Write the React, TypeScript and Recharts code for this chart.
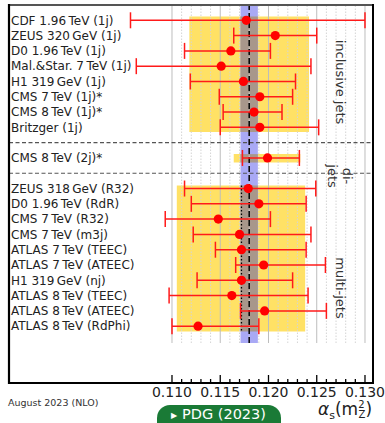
import React from "react";
import {
  ScatterChart,
  Scatter,
  XAxis,
  YAxis,
  ErrorBar,
  ReferenceArea,
  ReferenceLine,
} from "recharts";

const T = "\u2009";

const NAMES = [
  `CDF 1.96${T}TeV (1j)`,
  `ZEUS 320${T}GeV (1j)`,
  `D0 1.96${T}TeV (1j)`,
  `Mal.&Star. 7${T}TeV (1j)`,
  `H1 319${T}GeV (1j)`,
  `CMS 7${T}TeV (1j)*`,
  `CMS 8${T}TeV (1j)*`,
  "Britzger (1j)",
  `CMS 8${T}TeV (2j)*`,
  `ZEUS 318${T}GeV (R32)`,
  `D0 1.96${T}TeV (RdR)`,
  `CMS 7${T}TeV (R32)`,
  `CMS 7${T}TeV (m3j)`,
  `ATLAS 7${T}TeV (TEEC)`,
  `ATLAS 7${T}TeV (ATEEC)`,
  `H1 319${T}GeV (nj)`,
  `ATLAS 8${T}TeV (TEEC)`,
  `ATLAS 8${T}TeV (ATEEC)`,
  `ATLAS 8${T}TeV (RdPhi)`,
];
const ROWS = [0, 1, 2, 3, 4, 5, 6, 7, 9, 11, 12, 13, 14, 15, 16, 17, 18, 19, 20];
const CENTRAL = [
  0.1177, 0.1207, 0.1161, 0.1151, 0.1174, 0.1191, 0.1185, 0.1191, 0.1199,
  0.1179, 0.119, 0.1148, 0.117, 0.1172, 0.1195, 0.1172, 0.1162, 0.1196, 0.1127,
];
const LOWER = [
  0.1057, 0.1164, 0.1113, 0.1063, 0.1119, 0.1149, 0.1153, 0.115, 0.1173,
  0.1113, 0.112, 0.1093, 0.1122, 0.1145, 0.1166, 0.1126, 0.1097, 0.1171, 0.11,
];
const UPPER = [
  0.13, 0.125, 0.1202, 0.1244, 0.1228, 0.1225, 0.1214, 0.1252, 0.1232,
  0.1249, 0.1239, 0.1202, 0.1244, 0.1239, 0.1259, 0.1225, 0.1241, 0.126, 0.119,
];

// group averages (yellow bands)
const BAND_LO = [0.1118, 0.1164, 0.1105];
const BAND_HI = [0.1242, 0.1233, 0.1238];
const BAND_TOP = [-0.25, 8.75, 10.8];
const BAND_BOTTOM = [7.3, 9.3, 20.35];
const GROUP_LABELS = ["inclusive jets", "di-|jets", "multi-jets"];
const DIVIDERS = [8, 10];
const MULTI_AVG = 0.1172;

const WORLD_AVG = 0.118;
const WORLD_ERR = 0.0009;

const TICKS = [
  0.11, 0.111, 0.112, 0.113, 0.114, 0.115, 0.116, 0.117, 0.118, 0.119, 0.12,
  0.121, 0.122, 0.123, 0.124, 0.125, 0.126, 0.127, 0.128, 0.129, 0.13,
];

const data = NAMES.map((name, i) => ({
  name,
  x: CENTRAL[i],
  y: ROWS[i],
  err: [CENTRAL[i] - LOWER[i], UPPER[i] - CENTRAL[i]],
}));

const FONT = "DejaVu Sans, sans-serif";
const PLOT_BOTTOM = 383;

const AxisTick = (props: any) => {
  const { x, payload } = props;
  const k = Math.round(payload.value * 1000);
  const major = k % 5 === 0;
  return (
    <g>
      <line
        x1={x}
        x2={x}
        y1={PLOT_BOTTOM}
        y2={PLOT_BOTTOM - (major ? 8 : 4)}
        stroke="#000"
        strokeWidth={1.3}
      />
      {major && (
        <text
          x={x}
          y={PLOT_BOTTOM + 14}
          textAnchor="middle"
          fontFamily={FONT}
          fontSize={14}
          fill="#222"
        >
          {payload.value.toFixed(3)}
        </text>
      )}
    </g>
  );
};

const Point = (props: any) => {
  const { cx, cy, payload } = props;
  return (
    <g>
      <circle cx={cx} cy={cy} r={4.6} fill="#ff0000" />
      <text
        x={11}
        y={cy + 4.3}
        fontFamily={FONT}
        fontSize={12}
        fill="#222"
      >
        {payload.name}
      </text>
    </g>
  );
};

export default function App() {
  return (
    <div style={{ position: "absolute", left: 0, top: 0, width: 385, height: 423 }}>
      <ScatterChart
        width={385}
        height={423}
        margin={{ top: 5, right: 12, bottom: 40, left: 9 }}
      >
        <XAxis
          type="number"
          dataKey="x"
          domain={[0.09311, 0.13083]}
          allowDataOverflow
          ticks={TICKS}
          interval={0}
          tick={<AxisTick />}
          tickLine={false}
          axisLine={false}
          height={40}
        />
        <YAxis
          type="number"
          dataKey="y"
          domain={[-1, 21.1]}
          reversed
          hide
          allowDataOverflow
        />
        {TICKS.map((t) => {
          const major = Math.round(t * 1000) % 5 === 0;
          return (
            <ReferenceLine
              key={"g" + t}
              x={t}
              stroke={major ? "#bdbdbd" : "#d4d4d4"}
              strokeWidth={1}
              strokeDasharray={major ? undefined : "1.5 1.5"}
            />
          );
        })}
        {BAND_LO.map((lo, i) => (
          <ReferenceArea
            key={"b" + i}
            x1={lo}
            x2={BAND_HI[i]}
            y1={BAND_TOP[i]}
            y2={BAND_BOTTOM[i]}
            fill="#ffd629"
            fillOpacity={0.72}
            stroke="none"
          />
        ))}
        <ReferenceArea
          x1={WORLD_AVG - WORLD_ERR}
          x2={WORLD_AVG + WORLD_ERR}
          fill="#a9a9f5"
          fillOpacity={1}
          stroke="none"
        />
        {BAND_LO.map((lo, i) => (
          <ReferenceArea
            key={"o" + i}
            x1={WORLD_AVG - WORLD_ERR}
            x2={WORLD_AVG + WORLD_ERR}
            y1={BAND_TOP[i]}
            y2={BAND_BOTTOM[i]}
            fill="#a8978b"
            fillOpacity={1}
            stroke="none"
          />
        ))}
        {DIVIDERS.map((d) => (
          <ReferenceLine
            key={"d" + d}
            y={d}
            stroke="#555"
            strokeWidth={1.2}
            strokeDasharray="4 2.5"
          />
        ))}
        <ReferenceLine
          segment={[
            { x: MULTI_AVG, y: BAND_TOP[2] },
            { x: MULTI_AVG, y: BAND_BOTTOM[2] },
          ]}
          stroke="#000"
          strokeWidth={1.3}
          strokeDasharray="1.5 2"
        />
        <ReferenceLine
          x={WORLD_AVG}
          stroke="#000"
          strokeWidth={1.5}
          strokeDasharray="6 3"
        />
        <Scatter data={data} shape={<Point />} isAnimationActive={false}>
          <ErrorBar
            dataKey="err"
            direction="x"
            stroke="#ff1a1a"
            strokeWidth={1.5}
            width={8}
            isAnimationActive={false}
          />
        </Scatter>
      </ScatterChart>
      <svg
        width={385}
        height={423}
        style={{ position: "absolute", left: 0, top: 0, pointerEvents: "none" }}
      >
        <line x1={8} x2={374} y1={5} y2={5} stroke="#555" strokeWidth={2} />
        <line x1={373} x2={373} y1={4} y2={384} stroke="#000" strokeWidth={2} />
        <line x1={9} x2={9} y1={4} y2={384} stroke="#000" strokeWidth={2.2} />
        <line x1={8} x2={374} y1={383} y2={383} stroke="#000" strokeWidth={2} />
        <g fontFamily={FONT} fontSize={13} fill="#333" textAnchor="middle">
          <text transform="translate(340,82) rotate(90)" dy={4.5}>
            {GROUP_LABELS[0]}
          </text>
          <text transform="translate(347,176) rotate(90)" dy={4.5}>
            {GROUP_LABELS[1].split("|")[0]}
          </text>
          <text transform="translate(332,176) rotate(90)" dy={4.5}>
            {GROUP_LABELS[1].split("|")[1]}
          </text>
          <text transform="translate(340,288) rotate(90)" dy={4.5}>
            {GROUP_LABELS[2]}
          </text>
        </g>
        <text x={8} y={406} fontFamily={FONT} fontSize={9.5} fill="#333">
          August 2023 (NLO)
        </text>
        <rect x={157} y={405} width={124} height={30} rx={13} fill="#1a7a36" />
        <text x={171} y={418} fontFamily={FONT} fontSize={8} fill="#fff">
          ▶
        </text>
        <text x={182} y={419} fontFamily={FONT} fontSize={14.5} fill="#fff">
          PDG (2023)
        </text>
        <text x={318} y={415} fontFamily={FONT} fontSize={17} fill="#222">
          <tspan fontStyle="italic">α</tspan>
          <tspan fontSize={11} dy={4}>s</tspan>
          <tspan dy={-4}>(m</tspan>
          <tspan fontSize={10} dy={-7}>2</tspan>
          <tspan fontSize={10} dx={-6} dy={10}>Z</tspan>
          <tspan dy={-3}>)</tspan>
        </text>
      </svg>
    </div>
  );
}
